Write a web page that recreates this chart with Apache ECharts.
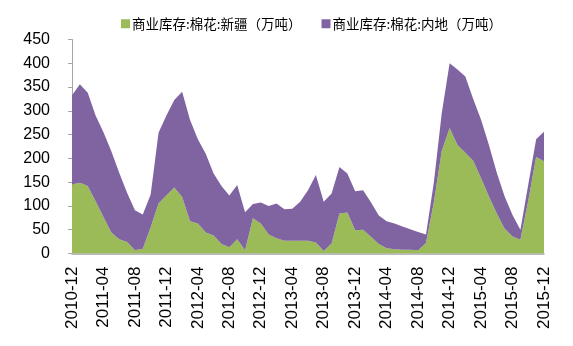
<!DOCTYPE html>
<html>
<head>
<meta charset="utf-8">
<script src="https://cdn.jsdelivr.net/npm/echarts@6/dist/echarts.min.js"></script>
<style>
html,body{margin:0;padding:0;background:#fff;}
#c{width:573px;height:346px;}
</style>
</head>
<body>
<div id="c"></div>
<script>
// Monthly categories 2010-12 .. 2015-12
var categories = [];
(function(){
  var y = 2010, m = 12;
  for (var k = 0; k < 61; k++) {
    categories.push(y + '-' + (m < 10 ? '0' + m : '' + m));
    m++; if (m > 12) { m = 1; y++; }
  }
})();

var seriesNames = ['商业库存:棉花:新疆（万吨）', '商业库存:棉花:内地（万吨）'];

// Xinjiang commercial stock (10k tons)
var xinjiang = [145,149,142,110,77,44,30,24,7,10,
                55,105,122,139,119,68,63,44,38,20,
                13,30,7,74,63,40,32,27,27,27,
                27,23,5,21,84,86,49,50,35,20,
                11,9,8,8,7,22,108,215,264,228,
                212,195,158,120,84,52,36,29,111,203,
                194];

// Inland commercial stock (10k tons)
var inland = [188,207,196,180,178,171,140,104,84,72,
              69,149,168,184,221,213,177,166,130,122,
              109,114,80,30,44,60,73,66,67,82,
              106,142,104,105,98,82,82,83,73,60,
              57,54,49,43,38,18,42,80,136,159,
              160,130,123,108,86,68,45,21,34,37,
              62];

var yTicks = [0,50,100,150,200,250,300,350,400,450];

var chart = echarts.init(document.getElementById('c'), null, {renderer:'canvas'});
chart.setOption({
  animation: false,
  backgroundColor: '#ffffff',
  legend: {
    left: 116,
    top: 12,
    itemWidth: 9,
    itemHeight: 9,
    itemGap: 20,
    icon: 'rect',
    textStyle: {fontFamily: '"Noto Sans CJK SC"', fontSize: 13.5, color: '#000', padding:[0,0,0,-3]},
    data: seriesNames
  },
  grid: {left: 72, right: 29, top: 39.5, bottom: 92.5, containLabel: false},
  xAxis: {
    type: 'category',
    data: categories,
    boundaryGap: false,
    axisLine: {lineStyle: {color: '#A6A6A6', width: 1.5}},
    axisTick: {show: false},
    axisLabel: {
      interval: 3,
      rotate: 90,
      margin: 13,
      fontFamily: 'Arial, "Liberation Sans"',
      fontSize: 17,
      color: '#000'
    },
    splitLine: {show: false}
  },
  yAxis: {
    type: 'value',
    min: yTicks[0],
    max: yTicks[yTicks.length-1],
    interval: 50,
    axisLine: {show: true, lineStyle: {color: '#A6A6A6', width: 1}},
    axisTick: {show: true, inside: false, length: 4, lineStyle: {color: '#A6A6A6'}},
    axisLabel: {margin: 22, fontFamily: 'Arial, "Liberation Sans"', fontSize: 16, color: '#000'},
    splitLine: {show: false}
  },
  series: [
    {
      name: seriesNames[0],
      type: 'line',
      stack: 'total',
      data: xinjiang,
      showSymbol: false,
      symbol: 'none',
      lineStyle: {width: 0},
      areaStyle: {color: '#9BBB59', opacity: 1},
      itemStyle: {color: '#9BBB59'}
    },
    {
      name: seriesNames[1],
      type: 'line',
      stack: 'total',
      data: inland,
      showSymbol: false,
      symbol: 'none',
      lineStyle: {width: 0},
      areaStyle: {color: '#8064A2', opacity: 1},
      itemStyle: {color: '#8064A2'}
    }
  ]
});
</script>
</body>
</html>
